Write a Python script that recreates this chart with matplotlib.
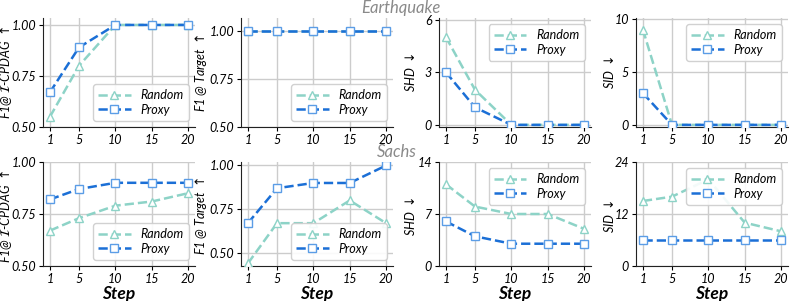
import numpy as np
import matplotlib.pyplot as plt

plt.rcParams['font.family'] = ['Lato', 'DejaVu Sans']
plt.rcParams['mathtext.fontset'] = 'dejavusans'

steps = [1, 5, 10, 15, 20]

# Earthquake
eq_cpdag_random = [0.55, 0.80, 1.0, 1.0, 1.0]
eq_cpdag_proxy = [0.67, 0.89, 1.0, 1.0, 1.0]
eq_target_random = [1.0, 1.0, 1.0, 1.0, 1.0]
eq_target_proxy = [1.0, 1.0, 1.0, 1.0, 1.0]
eq_shd_random = [5, 2, 0, 0, 0]
eq_shd_proxy = [3, 1, 0, 0, 0]
eq_sid_random = [9, 0, 0, 0, 0]
eq_sid_proxy = [3, 0, 0, 0, 0]

# Sachs
sa_cpdag_random = [0.67, 0.73, 0.79, 0.81, 0.85]
sa_cpdag_proxy = [0.82, 0.87, 0.90, 0.90, 0.90]
sa_target_random = [0.44, 0.67, 0.67, 0.80, 0.67]
sa_target_proxy = [0.67, 0.87, 0.90, 0.90, 1.0]
sa_shd_random = [11, 8, 7, 7, 5]
sa_shd_proxy = [6, 4, 3, 3, 3]
sa_sid_random = [15, 16, 20, 10, 8]
sa_sid_proxy = [6, 6, 6, 6, 6]

ylabels = [r'F1@ $\mathcal{I}$-CPDAG $\uparrow$', r'F1 @ Target $\uparrow$',
           r'SHD $\downarrow$', r'SID $\downarrow$']
label_x = [-0.24, -0.26, -0.19, -0.18]

rows = [
    [(eq_cpdag_random, eq_cpdag_proxy), (eq_target_random, eq_target_proxy),
     (eq_shd_random, eq_shd_proxy), (eq_sid_random, eq_sid_proxy)],
    [(sa_cpdag_random, sa_cpdag_proxy), (sa_target_random, sa_target_proxy),
     (sa_shd_random, sa_shd_proxy), (sa_sid_random, sa_sid_proxy)],
]
ylims = [
    [(0.5, 1.034), (0.5, 1.066), (-0.12, 6.09), (-0.2, 10.1)],
    [(0.5, 1.0), (0.425, 1.02), (0, 14), (0, 24)],
]
yticks = [
    [[0.5, 0.75, 1.0], [0.5, 0.75, 1.0], [0, 3, 6], [0, 5, 10]],
    [[0.5, 0.75, 1.0], [0.5, 0.75, 1.0], [0, 7, 14], [0, 12, 24]],
]
legloc = ['lower right', 'lower right', 'upper right', 'upper right']

c_rand = '#8dd3c7'
c_proxy = '#1b6fd6'
c_proxy_edge = '#5b9de6'

W, H = 793, 301
lefts = [43, 241, 439, 636]
width = 152
row_box = [(18, 127), (162, 266)]

fig = plt.figure(figsize=(7.93, 3.01), dpi=100)

for r in range(2):
    top, bot = row_box[r]
    for c in range(4):
        ax = fig.add_axes([lefts[c] / W, 1 - bot / H, width / W, (bot - top) / H])
        rnd, prx = rows[r][c]
        ax.plot(steps, rnd, '--', color=c_rand, lw=1.8, marker='^', ms=6,
                mfc='white', mec=c_rand, mew=1.0, label='Random', zorder=3)
        ax.plot(steps, prx, '--', color=c_proxy, lw=1.8, marker='s', ms=5.5,
                mfc='white', mec=c_proxy_edge, mew=1.0, label='Proxy', zorder=4)
        ax.set_ylim(*ylims[r][c])
        ax.set_yticks(yticks[r][c])
        if c < 2:
            ax.set_yticklabels(['{:.2f}'.format(v) for v in yticks[r][c]])
        else:
            ax.set_yticklabels([str(v) for v in yticks[r][c]])
        ax.set_xticks(steps)
        ax.set_xlim(0.05, 20.95)
        ax.grid(True, color='#cccccc', lw=1.0)
        ax.set_axisbelow(True)
        for s in ['top', 'right']:
            ax.spines[s].set_visible(False)
        for s in ['left', 'bottom']:
            ax.spines[s].set_color('#222222')
        ax.tick_params(labelsize=9, length=3, pad=2)
        for lab in ax.get_xticklabels() + ax.get_yticklabels():
            lab.set_style('italic')
        ax.set_ylabel(ylabels[c], fontsize=9, style='italic')
        ax.yaxis.label.set_va('center')
        ax.yaxis.label.set_ha('center')
        ax.yaxis.set_label_coords(label_x[c], 0.5 if r == 0 else 0.48)
        if r == 1:
            ax.set_xlabel('Step', fontsize=12.5, style='italic', fontweight='bold', labelpad=1)
        leg = ax.legend(loc=legloc[c], fontsize=9, handlelength=2.6,
                        borderpad=0.4, labelspacing=0.2, framealpha=0.9)
        for t in leg.get_texts():
            t.set_style('italic')

fig.text(0.505, 0.975, 'Earthquake', ha='center', va='center', color='#8a8a8a',
         fontsize=12, style='italic')
fig.text(0.501, 0.495, 'Sachs', ha='center', va='center', color='#8a8a8a',
         fontsize=12, style='italic')

fig.savefig('out.png', dpi=100)
